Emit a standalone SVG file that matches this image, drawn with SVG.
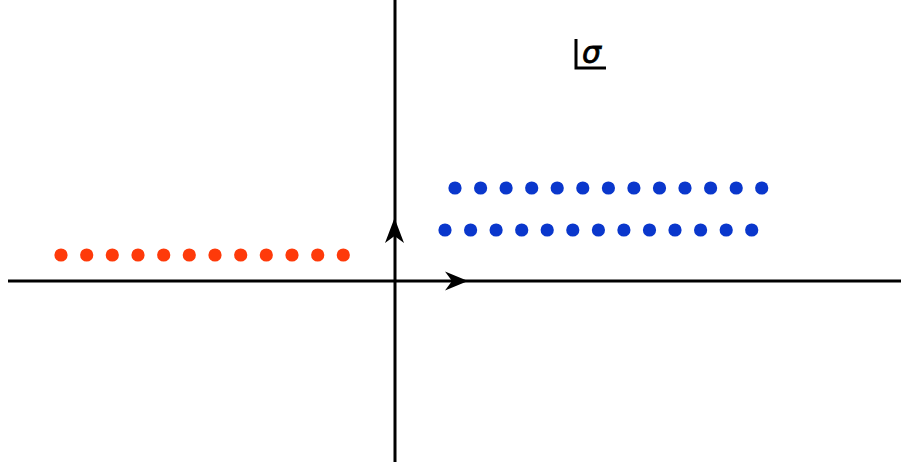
<svg xmlns="http://www.w3.org/2000/svg" width="901" height="466" viewBox="0 0 901 466">
<style>
.axis{stroke:#000;stroke-width:3;fill:none}
.red{fill:#fe3a0a}
.blue{fill:#0a37cc}
.lbl{font-family:"DejaVu Sans",sans-serif;font-style:italic;font-size:30px;fill:#000;stroke:#000;stroke-width:0.8}
</style>
<defs>
<circle id="d" r="6.6"/>
</defs>
<rect width="901" height="466" fill="#fff"/>
<g id="connectors">
<line class="axis" x1="8" y1="281" x2="901" y2="281"/>
<line class="axis" x1="395" y1="0" x2="395" y2="462"/>
<path d="M394.5,218 L404,243 L394.5,236 L385,243 Z" fill="#000"/>
<path d="M468,281 L445,271.5 L452,281 L445,290.5 Z" fill="#000"/>
</g>
<g id="label">
<path class="axis" d="M576,39 L576,68 L606,68" stroke-width="2.8"/>
<text class="lbl" x="582" y="63">σ</text>
</g>
<g id="red-dots" class="red">
<use href="#d" x="61" y="255"/><use href="#d" x="86.7" y="255"/><use href="#d" x="112.3" y="255"/><use href="#d" x="138" y="255"/><use href="#d" x="163.7" y="255"/><use href="#d" x="189.3" y="255"/><use href="#d" x="215" y="255"/><use href="#d" x="240.7" y="255"/><use href="#d" x="266.3" y="255"/><use href="#d" x="292" y="255"/><use href="#d" x="317.7" y="255"/><use href="#d" x="343.3" y="255"/>
</g>
<g id="blue-top" class="blue">
<use href="#d" x="455" y="188"/><use href="#d" x="480.6" y="188"/><use href="#d" x="506.1" y="188"/><use href="#d" x="531.7" y="188"/><use href="#d" x="557.2" y="188"/><use href="#d" x="582.8" y="188"/><use href="#d" x="608.4" y="188"/><use href="#d" x="633.9" y="188"/><use href="#d" x="659.5" y="188"/><use href="#d" x="685" y="188"/><use href="#d" x="710.6" y="188"/><use href="#d" x="736.2" y="188"/><use href="#d" x="761.7" y="188"/>
</g>
<g id="blue-bottom" class="blue">
<use href="#d" x="445" y="230"/><use href="#d" x="470.6" y="230"/><use href="#d" x="496.1" y="230"/><use href="#d" x="521.7" y="230"/><use href="#d" x="547.2" y="230"/><use href="#d" x="572.8" y="230"/><use href="#d" x="598.4" y="230"/><use href="#d" x="623.9" y="230"/><use href="#d" x="649.5" y="230"/><use href="#d" x="675" y="230"/><use href="#d" x="700.6" y="230"/><use href="#d" x="726.2" y="230"/><use href="#d" x="751.7" y="230"/>
</g>
</svg>
